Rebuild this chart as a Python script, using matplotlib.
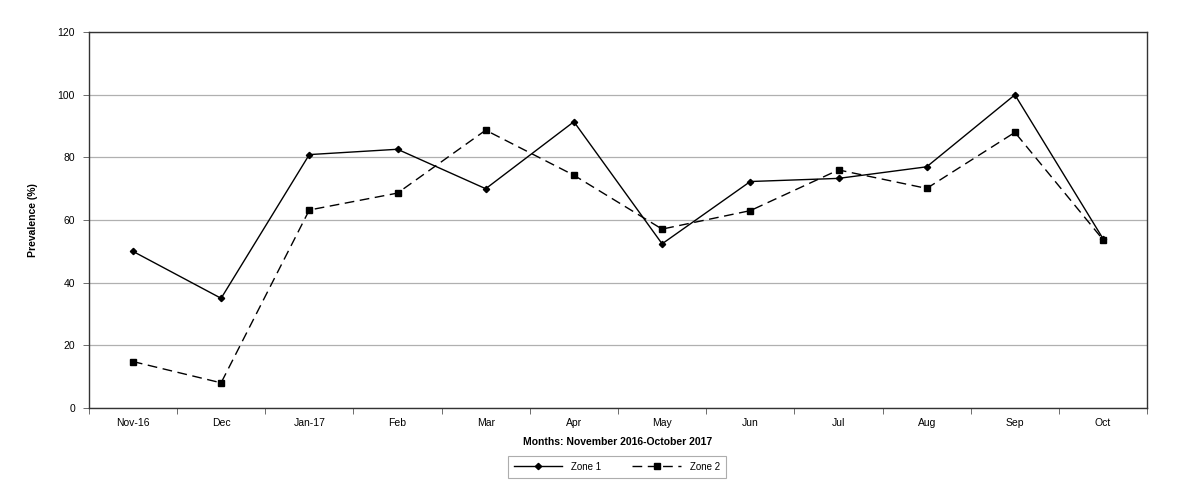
import matplotlib
matplotlib.use("Agg")
import matplotlib.pyplot as plt
import numpy as np

plt.rcParams['font.family'] = ['Liberation Sans', 'DejaVu Sans']

# data
months = ['Nov-16', 'Dec', 'Jan-17', 'Feb', 'Mar', 'Apr', 'May', 'Jun', 'Jul', 'Aug', 'Sep', 'Oct']
zone1 = [50.0, 35.0, 80.9, 82.6, 70.0, 91.4, 52.4, 72.3, 73.3, 77.0, 100.0, 54.0]
zone2 = [14.8, 8.0, 63.2, 68.6, 88.7, 74.3, 57.1, 63.0, 76.0, 70.1, 88.0, 53.7]
y_ticks = [0, 20, 40, 60, 80, 100, 120]

fig = plt.figure(figsize=(12, 4.95), dpi=100)
ax = fig.add_axes([0.074, 0.176, 0.882, 0.759])

x = np.arange(len(months))
ax.plot(x, zone1, color='black', lw=1.0, marker='D', ms=3.2, label='Zone 1')
ax.plot(x, zone2, color='black', lw=1.0, ls=(0, (7, 4)), marker='s', ms=5, label='Zone 2')

ax.set_xlim(-0.5, len(months) - 0.5)
ax.set_ylim(0, 120)
ax.set_yticks(y_ticks)
ax.yaxis.grid(True, color='#b0b0b0', lw=0.9)
ax.set_axisbelow(True)

# category labels centered, tick marks on boundaries (Excel style)
ax.set_xticks(x)
ax.set_xticklabels(months)
ax.set_xticks(np.arange(-0.5, len(months), 1), minor=True)
ax.tick_params(axis='x', which='major', length=0, pad=7, labelsize=7.5)
ax.tick_params(axis='x', which='minor', length=4, width=0.6, color='#555555')
ax.tick_params(axis='y', length=4, width=0.6, color='#555555', labelsize=7.5, pad=6)

for s in ax.spines.values():
    s.set_color('#333333')
    s.set_linewidth(1.0)

ax.set_xlabel('Months: November 2016-October 2017', fontsize=7.5, fontweight='bold', labelpad=7)
ax.set_ylabel('Prevalence (%)', fontsize=7.5, fontweight='bold', labelpad=14)

leg = fig.legend(loc='center', bbox_to_anchor=(0.514, 0.057), ncol=2, fontsize=7,
                 frameon=True, fancybox=False, edgecolor='#999999', handlelength=5,
                 columnspacing=3.2, borderpad=0.6, borderaxespad=0, handletextpad=0.9)
leg.get_frame().set_linewidth(0.8)
for t in leg.get_texts():
    t.set_position((0, 0))

plt.savefig('out.png', dpi=100)
